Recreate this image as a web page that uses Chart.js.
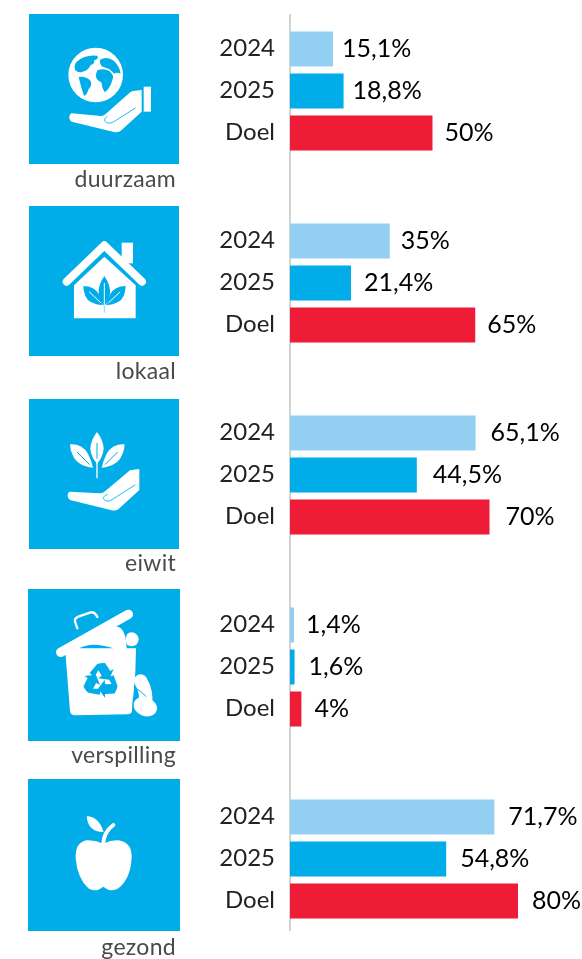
<!DOCTYPE html>
<html lang="nl">
<head>
<meta charset="utf-8">
<style>
html,body{margin:0;padding:0;background:#fff;overflow:hidden;width:582px;height:959px}
#wrap{position:absolute;left:0;top:0;width:582px;height:959px;overflow:hidden}
canvas{position:absolute;left:0;top:-6px}
</style>
<script src="https://cdn.jsdelivr.net/npm/chart.js@4"></script>
</head>
<body>
<div id="wrap"><canvas id="c" width="582" height="965"></canvas></div>
<script>
const categories = ['duurzaam','lokaal','eiwit','verspilling','gezond'];
const seriesNames = ['2024','2025','Doel'];
const values2024 = [15.1,35,65.1,1.4,71.7];
const values2025 = [18.8,21.4,44.5,1.6,54.8];
const valuesDoel = [50,65,70,4,80];

const BLUE='#00ADE8', LIGHT='#93CFF2', RED='#EF1C37';
const FONT='Lato, "Open Sans", sans-serif';

// square boxes [x, y, w, h] and icon-space origin (icon coords are 3x page px)
const boxes=[[29,14,150,150],[29,206,150,150],[29,399,150,150],[28,589,152,152],[28,779,152,152]];
const origins=[[20,5],[20,200],[20,395],[20,585],[20,775]];
const labelY=[180,372,564,756,948];
// gap between bar end and the ink of its value label, per series
const labelGaps=[[11,12,16,14,15],[11,14,16,16,15],[13,13,17,13,15]];

function P(ctx,d,fill){ctx.fillStyle=fill;ctx.fill(new Path2D(d));}
function S(ctx,d,stroke,w,cap){ctx.strokeStyle=stroke;ctx.lineWidth=w;ctx.lineCap=cap||'round';ctx.lineJoin='round';ctx.stroke(new Path2D(d));}
const W='#fff';

const icons=[
 function(c){ // globe + hand
  c.fillStyle=W;c.beginPath();c.arc(227,210,82,0,Math.PI*2);c.fill();
  P(c,'M170,170 Q195,148 232,152 Q238,162 222,166 Q226,176 212,180 Q206,196 188,200 Q176,205 166,196 Q160,182 170,170Z',BLUE);
  P(c,'M176,216 Q196,212 210,226 Q220,238 206,252 Q200,272 192,272 Q184,250 176,216Z',BLUE);
  P(c,'M240,164 Q262,152 282,168 Q300,186 302,206 Q290,200 282,206 Q270,190 250,186 Q238,180 240,164Z',BLUE);
  P(c,'M232,196 Q252,188 268,198 Q284,212 278,222 Q270,252 254,262 Q246,250 244,232 Q226,226 228,208Z',BLUE);
  P(c,'M155,325 L236,332 Q248,335 256,328 L328,264 Q335,257 346,257 L365,255 L365,320 L305,375 Q298,383 285,382 L155,350 Q148,346 148,338 Q148,327 155,325Z',W);
  S(c,'M262,334 Q245,346 262,354 Q272,356 282,350 L346,309',BLUE,2.5);
  c.fillStyle=W;c.fillRect(371,245,22,75);
 },
 function(c){ // house + leaves
  c.fillStyle=W;c.fillRect(305,128,34,62);
  S(c,'M140,245 L253,136 L366,245',W,24);
  P(c,'M162,256 L253,170 L347,256 L347,355 L162,355Z',W);
  P(c,'M253,228 Q272,255 270,282 Q264,308 253,318 Q242,308 236,282 Q234,255 253,228Z',BLUE);
  P(c,'M190,258 Q222,258 236,282 Q246,302 248,316 Q206,312 196,288 Q190,272 190,258Z',BLUE);
  P(c,'M317,258 Q285,258 271,282 Q261,302 259,316 Q301,312 311,288 Q317,272 317,258Z',BLUE);
  S(c,'M253,250 L253,338',W,3);
  S(c,'M253,318 L253,338',BLUE,1.5,'butt');
  S(c,'M208,276 L242,308',W,3);
  S(c,'M300,276 L266,308',W,3);
 },
 function(c){ // leaves + hand
  P(c,'M231,111 Q250,135 251,162 Q248,188 231,206 Q214,188 211,162 Q212,135 231,111Z',W);
  P(c,'M150,148 Q186,146 204,176 Q215,198 219,218 Q172,214 158,180 Q150,164 150,148Z',W);
  P(c,'M314,148 Q278,146 260,176 Q249,198 245,218 Q292,214 306,180 Q314,164 314,148Z',W);
  S(c,'M231,145 L231,190',BLUE,3);
  S(c,'M172,172 L208,208',BLUE,3);
  S(c,'M292,172 L256,208',BLUE,3);
  S(c,'M231,200 L231,250',W,4,'butt');
  P(c,'M150,290 L238,295 Q248,296 256,288 L330,226 L358,222 L358,285 L295,343 Q288,348 275,346 L150,315 Q143,310 143,302 Q143,291 150,290Z',W);
  S(c,'M262,298 Q240,308 258,318 Q268,320 276,314 L345,270',BLUE,2.5);
 },
 function(c){ // bin
  S(c,'M172,130 L165,110 Q163,100 175,95 L212,82 Q224,80 232,96',W,7);
  c.fillStyle=W;c.beginPath();c.arc(335,163,21,0,Math.PI*2);c.fill();
  S(c,'M318,150 Q312,165 320,182',BLUE,3);
  S(c,'M122,202 L325,88',W,28);
  P(c,'M136,200 L270,120 L296,126 Q318,136 320,190 L348,190 L346,262 L336,378 Q334,388 322,388 L165,391 Q152,391 150,378Z',W);
  P(c,'M178,190 Q215,168 280,190Z',BLUE);
  S(c,'M362,288 Q382,320 376,360',W,40);
  c.fillStyle=W;c.beginPath();c.ellipse(376,365,36,28,0.35,0,Math.PI*2);c.fill();
  S(c,'M344,308 Q364,318 378,334',BLUE,3);
  S(c,'M340,338 L338,376',BLUE,3);
  // recycle arrows
  c.save();c.translate(243,288);
  for(let k=0;k<3;k++){
    c.save();c.rotate(k*2*Math.PI/3);
    P(c,'M-34,-24 L-12,-50 Q-6,-54 12,-54 L28,-30 L38,-36 L24,-4 L-8,-8 L2,-16 L-8,-32 L-20,-12Z',BLUE);
    c.restore();
  }
  c.restore();
 },
 function(c){ // apple
  S(c,'M250,208 Q250,172 280,150',W,12);
  P(c,'M200,124 Q236,124 251,171 Q204,172 200,124Z',W);
  P(c,'M250,206 Q225,195 200,196 Q165,202 167,250 Q172,310 205,340 Q226,354 250,335 Q274,354 295,340 Q333,310 335,245 Q335,202 295,196 Q272,195 250,206Z',W);
 }
];

const decorations={
 id:'decorations',
 beforeDatasetsDraw(chart){
  const c=chart.ctx, x0=chart.scales.x.getPixelForValue(0);
  c.save();c.translate(0,6);
  c.strokeStyle='#D3D3D3';c.lineWidth=2;
  c.beginPath();c.moveTo(x0,14);c.lineTo(x0,931);c.stroke();
  boxes.forEach((b,i)=>{
    c.fillStyle=BLUE;c.fillRect(b[0],b[1],b[2],b[3]);
    c.save();c.translate(origins[i][0],origins[i][1]);c.scale(1/3,1/3);
    icons[i](c);c.restore();
  });
  c.textBaseline='middle';c.textAlign='right';
  c.font='23px '+FONT;c.letterSpacing='0.3px';c.fillStyle='#4A4A4A';
  categories.forEach((t,i)=>c.fillText(t,176,labelY[i]));
  c.letterSpacing='0px';
  c.restore();
 },
 afterDatasetsDraw(chart){
  const c=chart.ctx;
  c.save();c.textBaseline='middle';
  chart.data.datasets.forEach((ds,d)=>{
    chart.getDatasetMeta(d).data.forEach((bar,i)=>{
      c.font='24px '+FONT;
      c.textAlign='right';c.fillStyle='#222';
      c.fillText(ds.label,275,bar.y-0.5);
      c.font='25px '+FONT;
      c.textAlign='left';c.fillStyle='#000';
      const t=String(ds.data[i]).replace('.',',')+'%';
      const ink=c.measureText(t).actualBoundingBoxLeft;
      c.fillText(t,bar.x+labelGaps[d][i]+ink,bar.y-0.5);
    });
  });
  c.restore();
 }
};

new Chart(document.getElementById('c'),{
 type:'bar',
 plugins:[decorations],
 data:{labels:categories,datasets:[
  {label:seriesNames[0],data:values2024,backgroundColor:LIGHT},
  {label:seriesNames[1],data:values2025,backgroundColor:BLUE},
  {label:seriesNames[2],data:valuesDoel,backgroundColor:RED}
 ]},
 options:{
  indexAxis:'y',responsive:false,animation:false,devicePixelRatio:1,
  layout:{padding:{left:290,right:7,top:1,bottom:4}},
  categoryPercentage:126/192,barPercentage:35/42,
  plugins:{legend:{display:false},tooltip:{enabled:false}},
  scales:{
   x:{display:false,min:0,max:100},
   y:{display:false}
  }
 }
});
</script>
</body>
</html>
